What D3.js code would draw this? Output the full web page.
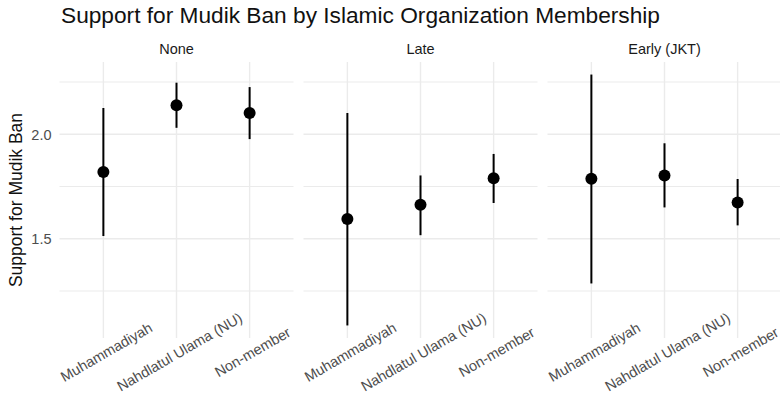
<!DOCTYPE html>
<html>
<head>
<meta charset="utf-8">
<script src="https://cdn.jsdelivr.net/npm/d3@7"></script>
<style>
  html, body { margin: 0; padding: 0; background: #ffffff; }
  svg { display: block; font-family: "Liberation Sans", Arial, Helvetica, sans-serif; }
</style>
</head>
<body>
<svg id="chart" width="780" height="397"></svg>
<script>
// Facets (timing of the ban) and membership categories
const facets = ["None", "Late", "Early (JKT)"];
const categories = ["Muhammadiyah", "Nahdlatul Ulama (NU)", "Non-member"];

// Mean support and confidence interval bounds, one array per facet,
// ordered as in `categories`
const meanNone  = [1.819, 2.139, 2.102];
const lowerNone = [1.513, 2.031, 1.977];
const upperNone = [2.126, 2.247, 2.226];

const meanLate  = [1.595, 1.663, 1.790];
const lowerLate = [1.085, 1.517, 1.671];
const upperLate = [2.102, 1.803, 1.906];

const meanEarly  = [1.787, 1.803, 1.674];
const lowerEarly = [1.286, 1.650, 1.564];
const upperEarly = [2.286, 1.957, 1.786];

const yMajorTicks = [1.5, 2.0];
const yMinorTicks = [1.25, 1.75, 2.25];

const titleText = "Support for Mudik Ban by Islamic Organization Membership";
const yTitle = "Support for Mudik Ban";

// Assemble rows for drawing
const seriesByFacet = {
  "None":        { mean: meanNone,  lo: lowerNone,  hi: upperNone },
  "Late":        { mean: meanLate,  lo: lowerLate,  hi: upperLate },
  "Early (JKT)": { mean: meanEarly, lo: lowerEarly, hi: upperEarly }
};

const svg = d3.select("#chart");

// Layout
const panelTop = 62, panelBottom = 338;
const panelLeft0 = 59.5, panelWidth = 234, panelGap = 10;

// Shared y scale with 5% padding around the interval extent
const allLo = d3.min(facets, f => d3.min(seriesByFacet[f].lo));
const allHi = d3.max(facets, f => d3.max(seriesByFacet[f].hi));
const pad = (allHi - allLo) * 0.05;
const y = d3.scaleLinear().domain([allLo - pad, allHi + pad]).range([panelBottom, panelTop]);

const gridColor = "#ebebeb";

// Title
svg.append("text")
  .attr("x", 61).attr("y", 23)
  .attr("font-size", 22.7)
  .attr("fill", "#111")
  .text(titleText);

// Y axis title
svg.append("text")
  .attr("transform", `translate(22, ${(panelTop + panelBottom) / 2}) rotate(-90)`)
  .attr("text-anchor", "middle")
  .attr("font-size", 17.5)
  .attr("fill", "#111")
  .text(yTitle);

// Y tick labels (left of first panel)
svg.append("g").selectAll("text")
  .data(yMajorTicks)
  .join("text")
  .attr("x", 51.5)
  .attr("y", d => y(d))
  .attr("dy", "0.36em")
  .attr("text-anchor", "end")
  .attr("font-size", 14.5)
  .attr("fill", "#4d4d4d")
  .text(d => d3.format(".1f")(d));

facets.forEach((facet, i) => {
  const left = panelLeft0 + i * (panelWidth + panelGap);
  const right = left + panelWidth;
  const x = d3.scalePoint().domain(categories).range([left, right]).padding(0.6);
  const g = svg.append("g");
  const s = seriesByFacet[facet];

  // Minor horizontal grid
  g.selectAll(".minor").data(yMinorTicks).join("line")
    .attr("x1", left).attr("x2", right)
    .attr("y1", d => y(d)).attr("y2", d => y(d))
    .attr("stroke", gridColor).attr("stroke-width", 1.1);

  // Major horizontal grid
  g.selectAll(".major").data(yMajorTicks).join("line")
    .attr("x1", left).attr("x2", right)
    .attr("y1", d => y(d)).attr("y2", d => y(d))
    .attr("stroke", gridColor).attr("stroke-width", 1.4);

  // Vertical grid at categories
  g.selectAll(".vgrid").data(categories).join("line")
    .attr("x1", d => x(d)).attr("x2", d => x(d))
    .attr("y1", panelTop).attr("y2", panelBottom)
    .attr("stroke", gridColor).attr("stroke-width", 1.4);

  // Strip label
  g.append("text")
    .attr("x", (left + right) / 2)
    .attr("y", 54)
    .attr("text-anchor", "middle")
    .attr("font-size", 14.5)
    .attr("fill", "#1a1a1a")
    .text(facet);

  const rows = categories.map((c, j) => ({ c, m: s.mean[j], lo: s.lo[j], hi: s.hi[j] }));

  // Interval lines
  g.selectAll(".ci").data(rows).join("line")
    .attr("x1", d => x(d.c)).attr("x2", d => x(d.c))
    .attr("y1", d => y(d.lo)).attr("y2", d => y(d.hi))
    .attr("stroke", "#000").attr("stroke-width", 2);

  // Mean points
  g.selectAll(".pt").data(rows).join("circle")
    .attr("cx", d => x(d.c)).attr("cy", d => y(d.m))
    .attr("r", 6).attr("fill", "#000");

  // Category labels, rotated
  g.selectAll(".xlab").data(categories).join("text")
    .attr("transform", d => `translate(${x(d) + 3}, 352) rotate(-30)`)
    .attr("text-anchor", "middle")
    .attr("dy", "0.35em")
    .attr("font-size", 14.5)
    .attr("fill", "#4d4d4d")
    .text(d => d);
});
</script>
</body>
</html>
